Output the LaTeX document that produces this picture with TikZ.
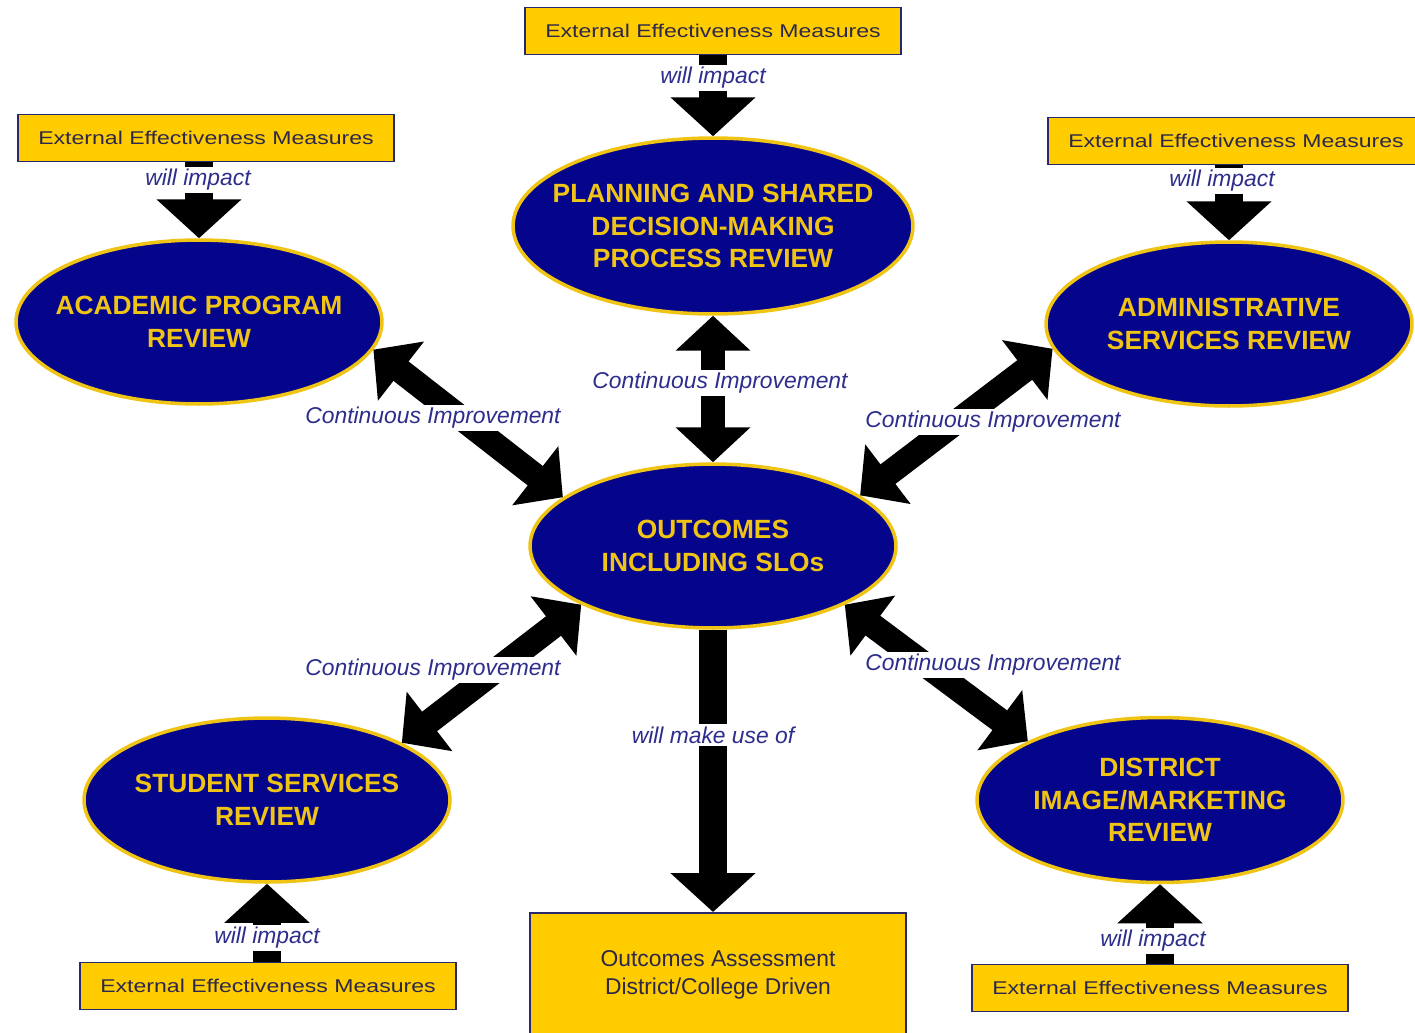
\documentclass[tikz,border=0pt]{standalone}
\usepackage{fontspec}
\setmainfont{Liberation Sans}
\newfontfamily\boxfont[FakeStretch=1.25]{Liberation Sans}
\usepackage{tikz}
\usetikzlibrary{shapes.geometric, arrows.meta, positioning}
\definecolor{revnavy}{RGB}{5, 5, 140}
\definecolor{revgold}{RGB}{240, 196, 20}
\definecolor{boxyellow}{RGB}{255, 204, 0}
\definecolor{boxline}{RGB}{40, 40, 110}
\definecolor{boxtext}{RGB}{45, 40, 75}
\definecolor{labnavy}{RGB}{45, 45, 140}

\tikzset{
  review/.style={ellipse, draw=revgold, line width=2pt, fill=revnavy, inner sep=0pt},
  reviewtext/.style={align=center, text=revgold, font=\fontsize{15}{18.5}\selectfont\bfseries},
  extbox/.style={draw=boxline, line width=0.9pt, fill=boxyellow, minimum width=7.52cm, minimum height=0.94cm, inner sep=0pt, text=boxtext, font=\boxfont\fontsize{10.5}{12}\selectfont},
  impact/.style={line width=16pt, -{Triangle[length=0.78cm, width=1.66cm]}},
  improve/.style={line width=14pt, {Triangle[length=0.7cm, width=1.46cm]}-{Triangle[length=0.7cm, width=1.46cm]}},
  arrowlabel/.style={fill=white, inner sep=1.5pt, text=labnavy, font=\fontsize{13}{15}\selectfont\itshape},
}

\begin{document}
\begin{tikzpicture}[x=0.02cm, y=-0.02cm]
  \useasboundingbox (0,0) rectangle (1415,1032);

  % Review ellipses
  \node[review, minimum width=8cm, minimum height=3.52cm] (plan) at (713,226) {};
  \node[reviewtext] (plantxt) at (plan) {PLANNING AND SHARED\\DECISION-MAKING\\PROCESS REVIEW};
  \node[review, minimum width=7.32cm, minimum height=3.28cm] (acad) at (199,322) {};
  \node[reviewtext] (acadtxt) at (acad) {ACADEMIC PROGRAM\\REVIEW};
  \node[review, minimum width=7.32cm, minimum height=3.28cm] (admin) at (1229,324) {};
  \node[reviewtext] (admintxt) at (admin) {ADMINISTRATIVE\\SERVICES REVIEW};
  \node[review, minimum width=7.32cm, minimum height=3.28cm] (outc) at (713,546) {};
  \node[reviewtext] (outctxt) at (outc) {OUTCOMES\\INCLUDING SLOs};
  \node[review, minimum width=7.32cm, minimum height=3.28cm] (student) at (267,800) {};
  \node[reviewtext] (studenttxt) at (student) {STUDENT SERVICES\\REVIEW};
  \node[review, minimum width=7.32cm, minimum height=3.3cm] (district) at (1160,800) {};
  \node[reviewtext] (districttxt) at (district) {DISTRICT\\IMAGE/MARKETING\\REVIEW};

  % External measures
  \node[extbox] (ext1) at (713,31) {External Effectiveness Measures};
  \node[extbox] (ext2) at (206,138) {External Effectiveness Measures};
  \node[extbox] (ext3) at (1236,141) {External Effectiveness Measures};
  \node[extbox] (ext4) at (268,986) {External Effectiveness Measures};
  \node[extbox] (ext5) at (1160,988) {External Effectiveness Measures};
  \node[extbox, anchor=north, minimum height=2.5cm, align=center, font=\fontsize{13}{16}\selectfont] (assess) at (718,912) {Outcomes Assessment\\District/College Driven};

  % will impact
  \draw[impact] (plan.north |- ext1.south) -- (plan.north);
  \draw[impact] (acad.north |- ext2.south) -- (acad.north);
  \draw[impact] (admin.north |- ext3.south) -- (admin.north);
  \draw[impact] (student.south |- ext4.north) -- (student.south);
  \draw[impact] (district.south |- ext5.north) -- (district.south);
  \node[arrowlabel] (imp1) at (713,78) {will impact};
  \node[arrowlabel] (imp2) at (198,180) {will impact};
  \node[arrowlabel] (imp3) at (1222,181) {will impact};
  \node[arrowlabel] (imp4) at (267,938) {will impact};
  \node[arrowlabel] (imp5) at (1153,941) {will impact};

  % Continuous improvement
  \draw[improve] (plan.south) -- (outc.north);
  \draw[improve] (acad.-9) -- (outc.162);
  \draw[improve] (admin.-172) -- (outc.19);
  \draw[improve] (student.23) -- (outc.-156);
  \draw[improve] (district.156) -- (outc.-24);
  \node[arrowlabel] (ci1) at (720,383) {Continuous Improvement};
  \node[arrowlabel] (ci2) at (433,418) {Continuous Improvement};
  \node[arrowlabel] (ci3) at (993,422) {Continuous Improvement};
  \node[arrowlabel] (ci4) at (433,670) {Continuous Improvement};
  \node[arrowlabel] (ci5) at (993,665) {Continuous Improvement};

  % will make use of
  \draw[impact] (outc.south) -- (outc.south |- assess.north);
  \node[arrowlabel] (use) at (713,735) {will make use of};
\end{tikzpicture}
\end{document}
